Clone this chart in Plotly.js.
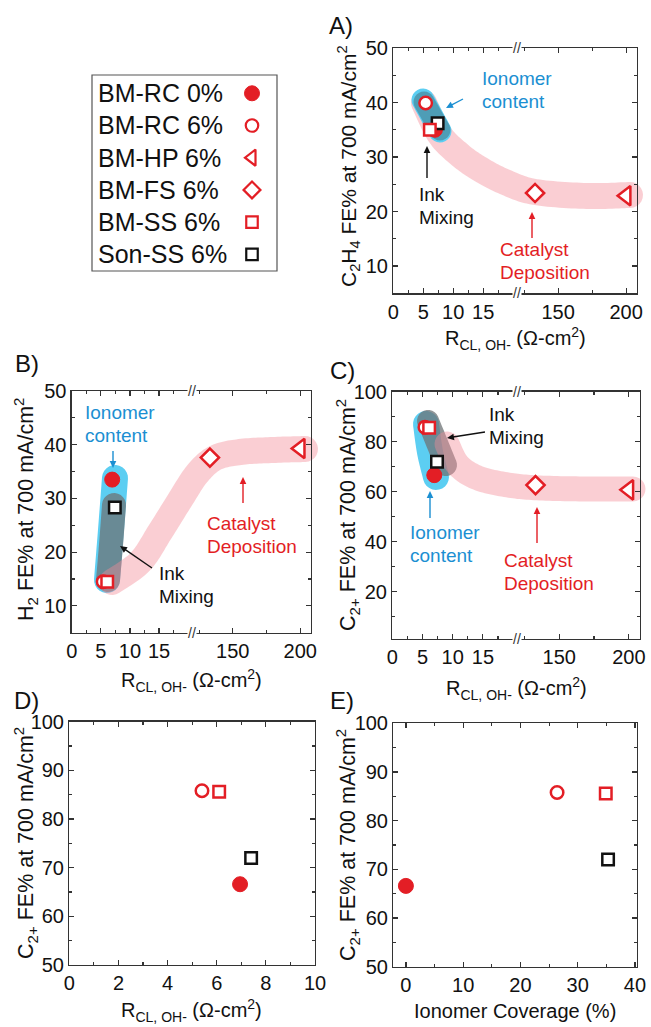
<!DOCTYPE html>
<html>
<head>
<meta charset="utf-8">
<script src="https://cdn.plot.ly/plotly-3.0.1.min.js"></script>
<style>html,body{margin:0;padding:0;background:#fff;}#chart{width:651px;height:1027px;}</style>
</head>
<body>
<div id="chart"></div>
<script>
// ---------------- DATA ----------------
const series      = ['BM-RC 0%', 'BM-RC 6%', 'BM-HP 6%', 'BM-FS 6%', 'BM-SS 6%', 'Son-SS 6%'];
const rclOH       = [6.95, 5.4, 200, 133, 6.1, 7.4];          // R_CL,OH- (Ω-cm2)
const feC2H4      = [35.0, 39.9, 22.9, 23.4, 35.0, 36.2];      // panel A
const feH2        = [33.5, 14.5, 39.3, 37.6, 14.5, 28.3];      // panel B
const feC2plus    = [66.6, 85.8, 60.7, 62.6, 85.6, 72.0];      // panels C, D, E
const ionomerCov  = [0, 26.4, null, null, 34.9, 35.3];         // panel E (%)
const ticksLeftSeg  = [0, 5, 10, 15];
const ticksRightSeg = [150, 200];

// ---------------- STYLE ----------------
const W = 651, H = 1027;
const F = 'Liberation Sans, Arial, sans-serif';
const RED = '#e31e25', BLUE = '#1b8fd2', BLK = '#111111', AX = '#333333';
const symbols = ['circle', 'circle', 'triangle-left', 'diamond', 'square', 'square'];
const fills   = [RED, 'white', 'white', 'white', 'white', 'white'];
const edges   = [RED, RED, RED, RED, RED, BLK];
const sizes   = [15, 12.5, 17, 14, 11.5, 11.5];
const drawOrder = [0, 1, 2, 3, 5, 4];

const px = x => x / W, py = y => 1 - y / H;

function ax(extra) {
  const base = {showline: true, linecolor: AX, linewidth: 1.3, ticks: 'inside', ticklen: 5, tickwidth: 1.2,
    tickcolor: AX, showgrid: false, zeroline: false, tickfont: {family: F, size: 20, color: '#111'}};
  const minor = Object.assign({ticks: 'inside', ticklen: 3, tickwidth: 1.1, tickcolor: AX, showgrid: false}, extra.minor || {});
  const o = Object.assign(base, extra);
  o.minor = minor;
  return o;
}

const traces = [];
function addPoints(xs, ys, xa, ya) {
  drawOrder.forEach(i => {
    if (xs[i] == null || ys[i] == null) return;
    traces.push({x: [xs[i]], y: [ys[i]], xaxis: xa, yaxis: ya, mode: 'markers', name: series[i],
      showlegend: false, hoverinfo: 'skip', cliponaxis: true,
      marker: {symbol: symbols[i], size: sizes[i], color: fills[i],
        line: {color: edges[i], width: i === 0 ? 1 : 2.5}}});
  });
}
// A
addPoints(rclOH, feC2H4, 'x', 'y');   addPoints(rclOH, feC2H4, 'x2', 'y2');
// B
addPoints(rclOH, feH2, 'x3', 'y3');   addPoints(rclOH, feH2, 'x4', 'y4');
// C
addPoints(rclOH, feC2plus, 'x5', 'y5'); addPoints(rclOH, feC2plus, 'x6', 'y6');
// D
addPoints(rclOH, feC2plus, 'x7', 'y7');
// E
addPoints(ionomerCov, feC2plus, 'x8', 'y8');

// Legend keys (custom: text left, symbol right)
const legRow0 = 93.3, legStep = 32.2, legSymX = 252;
series.forEach((s, i) => {
  traces.push({x: [legSymX], y: [legRow0 + i * legStep], xaxis: 'x9', yaxis: 'y9', mode: 'markers',
    showlegend: false, hoverinfo: 'skip', cliponaxis: false,
    marker: {symbol: symbols[i], size: i === 2 ? 14 : (i === 3 ? 13 : sizes[i]), color: fills[i],
      line: {color: edges[i], width: i === 0 ? 1 : 2.2}}});
});

// ---------------- decorative bands ----------------
function catmull(pts, n) {
  const out = [];
  for (let i = 0; i < pts.length - 1; i++) {
    const p0 = pts[Math.max(i - 1, 0)], p1 = pts[i], p2 = pts[i + 1], p3 = pts[Math.min(i + 2, pts.length - 1)];
    for (let k = 0; k < n; k++) {
      const t = k / n, t2 = t * t, t3 = t2 * t;
      const f = (a, b, c, d) => 0.5 * ((2 * b) + (-a + c) * t + (2 * a - 5 * b + 4 * c - d) * t2 + (-a + 3 * b - 3 * c + d) * t3);
      out.push([f(p0[0], p1[0], p2[0], p3[0]), f(p0[1], p1[1], p2[1], p3[1])]);
    }
  }
  out.push(pts[pts.length - 1]);
  return out;
}
function bandPath(pts, w) {
  const s = catmull(pts, 14);
  const L = [], R = [], N = [];
  for (let k = 0; k < s.length; k++) {
    const a = s[Math.max(k - 1, 0)], b = s[Math.min(k + 1, s.length - 1)];
    let tx = b[0] - a[0], ty = b[1] - a[1]; const m = Math.hypot(tx, ty) || 1; tx /= m; ty /= m;
    const nx = -ty, ny = tx; N.push([nx, ny]);
    L.push([s[k][0] + nx * w, s[k][1] + ny * w]); R.push([s[k][0] - nx * w, s[k][1] - ny * w]);
  }
  const poly = L.slice();
  const e = s[s.length - 1], ea = Math.atan2(N[N.length - 1][1], N[N.length - 1][0]);
  for (let j = 1; j < 12; j++) { const g = ea - Math.PI * j / 12; poly.push([e[0] + w * Math.cos(g), e[1] + w * Math.sin(g)]); }
  for (let k = R.length - 1; k >= 0; k--) poly.push(R[k]);
  const st = s[0], sa = Math.atan2(N[0][1], N[0][0]);
  for (let j = 1; j < 12; j++) { const g = sa + Math.PI - Math.PI * j / 12; poly.push([st[0] + w * Math.cos(g), st[1] + w * Math.sin(g)]); }
  return 'M' + poly.map(p => px(p[0]).toFixed(5) + ',' + py(p[1]).toFixed(5)).join('L') + 'Z';
}
const CYAN = 'rgb(92,206,242)', GRAY = 'rgb(110,115,118)', TEAL = 'rgb(60,90,100)', PINK = 'rgb(244,138,150)';
const shapes = [];
function band(pts, w, color, op) {
  shapes.push({type: 'path', xref: 'paper', yref: 'paper', path: bandPath(pts, w), fillcolor: color,
    opacity: op, line: {width: 0}, layer: 'below'});
}
// A
band([[424,103],[440,135],[460,155],[480,169],[505,182],[535,192],[587,196],[630,195]], 13, PINK, 0.42);
band([[423,100],[440,131]], 11.5, CYAN, 1);
band([[424,102],[440,130]], 10.5, TEAL, 0.42);
// B
band([[115,478],[111,530],[107,580]], 13, CYAN, 1);
band([[114,505],[111,545],[108,580]], 12, GRAY, 0.75);
band([[112,582],[140,562],[160,532],[180,500],[197,474],[215,458],[240,452],[273,450],[305,449]], 13, PINK, 0.42);
// C
band([[426,424],[430,452],[436,477]], 13, CYAN, 1);
band([[428,421],[446,465]], 11, GRAY, 0.75);
band([[447,444],[458,465],[478,478],[508,485],[540,488],[590,489],[633,489]], 12.5, PINK, 0.42);

// legend box
shapes.push({type: 'rect', xref: 'paper', yref: 'paper', x0: px(92), x1: px(277), y0: py(271), y1: py(75),
  line: {color: '#555', width: 1.2}, fillcolor: 'rgba(0,0,0,0)', layer: 'above'});

// callout arrows drawn as shapes (shaft + filled head)
function arrow(tx, ty, hx, hy, color) {
  const dx = hx - tx, dy = hy - ty, L = Math.hypot(dx, dy), ux = dx / L, uy = dy / L;
  const hl = 7, hw = 3.3;
  const bx = hx - ux * hl, by = hy - uy * hl;
  shapes.push({type: 'line', xref: 'paper', yref: 'paper', x0: px(tx), y0: py(ty), x1: px(bx + ux), y1: py(by + uy),
    line: {color: color, width: 1.4}, layer: 'above'});
  const p1 = [bx - uy * hw, by + ux * hw], p2 = [bx + uy * hw, by - ux * hw];
  shapes.push({type: 'path', xref: 'paper', yref: 'paper', layer: 'above', fillcolor: color, line: {width: 0},
    path: 'M' + px(hx) + ',' + py(hy) + 'L' + px(p1[0]) + ',' + py(p1[1]) + 'L' + px(p2[0]) + ',' + py(p2[1]) + 'Z'});
}

// ---------------- annotations ----------------
const ann = [];
function txt(x, y, text, color, size, extra) {
  ann.push(Object.assign({xref: 'paper', yref: 'paper', x: px(x), y: py(y), text: text, showarrow: false,
    xanchor: 'left', yanchor: 'middle', align: 'left', font: {family: F, size: size, color: color}}, extra || {}));
}
function lines2(x, yc, l1, l2, color) {
  txt(x, yc - 11.5, l1, color, 19);
  txt(x, yc + 11.5, l2, color, 19);
}
function brk(x, y) {
  ann.push({xref: 'paper', yref: 'paper', x: px(x), y: py(y), text: '//', showarrow: false, xanchor: 'center', yanchor: 'middle',
    bgcolor: 'white', borderpad: 0, font: {family: F, size: 14, color: AX}});
}
const RTITLE = 'R<sub>CL, OH-</sub> (Ω-cm<sup>2</sup>)';
const FE = ' FE% at 700 mA/cm<sup>2</sup>';
// panel labels
txt(327, 25, 'A)', BLK, 24); txt(13, 363, 'B)', BLK, 24); txt(328, 370, 'C)', BLK, 24);
txt(12, 700, 'D)', BLK, 24); txt(328, 700, 'E)', BLK, 24);
// x titles
txt(515, 339, RTITLE, BLK, 20, {xanchor: 'center'});
txt(191, 680, RTITLE, BLK, 20, {xanchor: 'center'});
txt(516, 688, RTITLE, BLK, 20, {xanchor: 'center'});
txt(191, 1010, RTITLE, BLK, 20, {xanchor: 'center'});
txt(515, 1011, 'Ionomer Coverage (%)', BLK, 20, {xanchor: 'center'});
// y titles
txt(348, 166, 'C<sub>2</sub>H<sub>4</sub>' + FE, BLK, 21, {xanchor: 'center', textangle: -90});
txt(26, 510, 'H<sub>2</sub>' + FE, BLK, 21.5, {xanchor: 'center', textangle: -90});
txt(347, 515, 'C<sub>2+</sub>' + FE, BLK, 21.5, {xanchor: 'center', textangle: -90});
txt(25, 843, 'C<sub>2+</sub>' + FE, BLK, 21.5, {xanchor: 'center', textangle: -90});
txt(347, 845, 'C<sub>2+</sub>' + FE, BLK, 21.5, {xanchor: 'center', textangle: -90});
// callouts A
lines2(480, 90, 'Ionomer', 'content', BLUE);     arrow(463, 99, 446, 108, BLUE);
lines2(417, 206, 'Ink', 'Mixing', BLK);          arrow(427, 178, 427, 146, BLK);
lines2(498, 261, 'Catalyst', 'Deposition', RED); arrow(532, 238, 532, 212, RED);
// callouts B
lines2(83, 424, 'Ionomer', 'content', BLUE);     arrow(113, 451, 113, 468, BLUE);
lines2(157, 585, 'Ink', 'Mixing', BLK);          arrow(152, 568, 120, 546, BLK);
lines2(205, 535, 'Catalyst', 'Deposition', RED); arrow(243, 503, 243, 477, RED);
// callouts C
lines2(487, 426, 'Ink', 'Mixing', BLK);          arrow(485, 432, 447, 438, BLK);
lines2(408, 544, 'Ionomer', 'content', BLUE);    arrow(430, 518, 430, 491, BLUE);
lines2(502, 572, 'Catalyst', 'Deposition', RED); arrow(537, 543, 537, 507, RED);
// legend text
series.forEach((s, i) => txt(96, legRow0 + i * legStep, s, BLK, 25));
// axis breaks
brk(516.7, 293.3); brk(516.7, 48);
brk(191.7, 632.7); brk(191.7, 391);
brk(516.7, 639);   brk(516.7, 391.7);

// ---------------- AXES ----------------
const leftMinor = {tickvals: [2.5, 7.5, 12.5, 17.5]};
const rightMinor = {tickvals: [125, 175]};
function brokenPanel(n, xl0, xbr, xr1, yt, yb, yrange, ydt, ymin) {
  const a = n, b = n + 1;
  const id = k => (k === 1 ? '' : String(k));
  const L = {};
  L['xaxis' + id(a)] = ax({domain: [px(xl0), px(xbr)], range: [0, 20.6], anchor: 'y' + id(a), tickmode: 'array',
    tickvals: ticksLeftSeg, mirror: 'allticks', minor: leftMinor});
  L['xaxis' + id(b)] = ax({domain: [px(xbr), px(xr1)], range: [119.5, 208], anchor: 'y' + id(b), tickmode: 'array',
    tickvals: ticksRightSeg, mirror: 'allticks', minor: rightMinor});
  L['yaxis' + id(a)] = ax({domain: [py(yb), py(yt)], range: yrange, anchor: 'x' + id(a), dtick: ydt, tick0: 0,
    minor: {dtick: ymin, tick0: 0}});
  L['yaxis' + id(b)] = ax({domain: [py(yb), py(yt)], range: yrange, anchor: 'x' + id(b), matches: 'y' + id(a),
    side: 'right', showticklabels: false, dtick: ydt, tick0: 0, minor: {dtick: ymin, tick0: 0}});
  return L;
}
const layout = Object.assign({
  width: W, height: H, margin: {l: 0, r: 0, t: 0, b: 0},
  paper_bgcolor: 'white', plot_bgcolor: 'rgba(0,0,0,0)', showlegend: false,
  font: {family: F, color: BLK},
  shapes: shapes, annotations: ann,
  xaxis7: ax({domain: [px(69.3), px(315)], range: [0, 10], anchor: 'y7', dtick: 2, tick0: 0, mirror: 'allticks', minor: {dtick: 1, tick0: 0}}),
  yaxis7: ax({domain: [py(965), py(721.7)], range: [50, 100], anchor: 'x7', dtick: 10, tick0: 0, mirror: 'allticks', minor: {dtick: 5, tick0: 0}}),
  xaxis8: ax({domain: [px(393.3), px(636.7)], range: [-2.2, 40.3], anchor: 'y8', dtick: 10, tick0: 0, mirror: 'allticks', minor: {dtick: 5, tick0: 0}}),
  yaxis8: ax({domain: [py(966.7), py(723.3)], range: [50, 100], anchor: 'x8', dtick: 10, tick0: 0, mirror: 'allticks', minor: {dtick: 5, tick0: 0}}),
  xaxis9: {domain: [px(92), px(277)], range: [92, 277], anchor: 'y9', visible: false},
  yaxis9: {domain: [py(271), py(75)], range: [271, 75], anchor: 'x9', visible: false}
},
  brokenPanel(1, 393.3, 516.7, 637, 48, 293.3, [5, 50], 10, 5),
  brokenPanel(3, 71.7, 191.7, 311, 391, 632.7, [5, 50], 10, 5),
  brokenPanel(5, 392.3, 516.7, 640, 391.7, 639, [1, 100], 20, 10)
);

Plotly.newPlot('chart', traces, layout, {staticPlot: true, displayModeBar: false});
</script>
</body>
</html>
